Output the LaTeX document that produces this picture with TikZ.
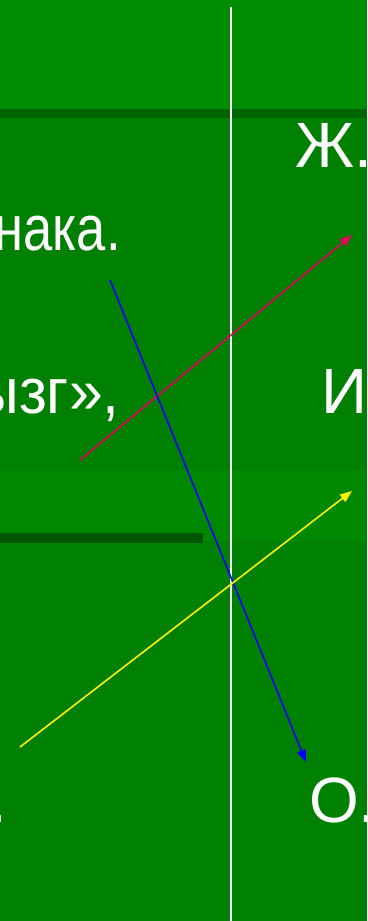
\documentclass[tikz,border=0pt]{standalone}
\usepackage{fontspec}
\setmainfont{Liberation Sans}
\usepackage{tikz}
\usetikzlibrary{arrows.meta}
\definecolor{topgreen}{RGB}{0,140,0}
\definecolor{maingreen}{RGB}{0,128,0}
\definecolor{lightband}{RGB}{0,136,0}
\definecolor{darkbar}{RGB}{0,100,0}
\definecolor{barleft}{RGB}{0,85,0}
\definecolor{redline}{RGB}{235,0,95}

\begin{document}
\begin{tikzpicture}[x=1pt, y=-1pt,
        txt/.style = {text=white, inner sep=0pt, font=\fontsize{64}{70}\selectfont},
        ray/.style = {line width=1.6pt, -{Triangle[length=12pt, width=9pt]}}]
        \useasboundingbox (0,0) rectangle (367,921);
        \clip (0,0) rectangle (367,921);
        \fill[maingreen] (0,0) rectangle (367,921);
        \fill[topgreen] (0,0) rectangle (367,109);
        \fill[darkbar] (0,109) rectangle (367,118);
        \fill[lightband] (0,470) rectangle (367,541);
        \fill[barleft] (0,533) rectangle (203,543);
        \draw[white, line width=2pt] (231,7) -- (231,921);
        \node[txt, anchor=base west] (zh) at (295,167) {Ж.};
        \node[txt, anchor=base east] (naka) at (121,250) {\scalebox{0.82}[1]{нака.}};
        \node[txt, anchor=base east] (yzg) at (120,413) {\scalebox{0.95}[1]{ызг»,}};
        \node[txt, anchor=base west] (i) at (321,413) {И};
        \node[txt, anchor=base west] (o) at (309,822) {О.};
        \node[txt, anchor=base east] (dot) at (7,822) {.};
        \coordinate (redA) at (80,460);
        \coordinate (redB) at (352,235);
        \coordinate (blueA) at (110,280);
        \coordinate (blueB) at (306,762);
        \coordinate (yelA) at (20,747);
        \coordinate (yelB) at (352,491);
        \draw[ray, redline] (redA) -- (redB);
        \draw[ray, blue] (blueA) -- (blueB);
        \draw[ray, yellow] (yelA) -- (yelB);
      \end{tikzpicture}
\end{document}
